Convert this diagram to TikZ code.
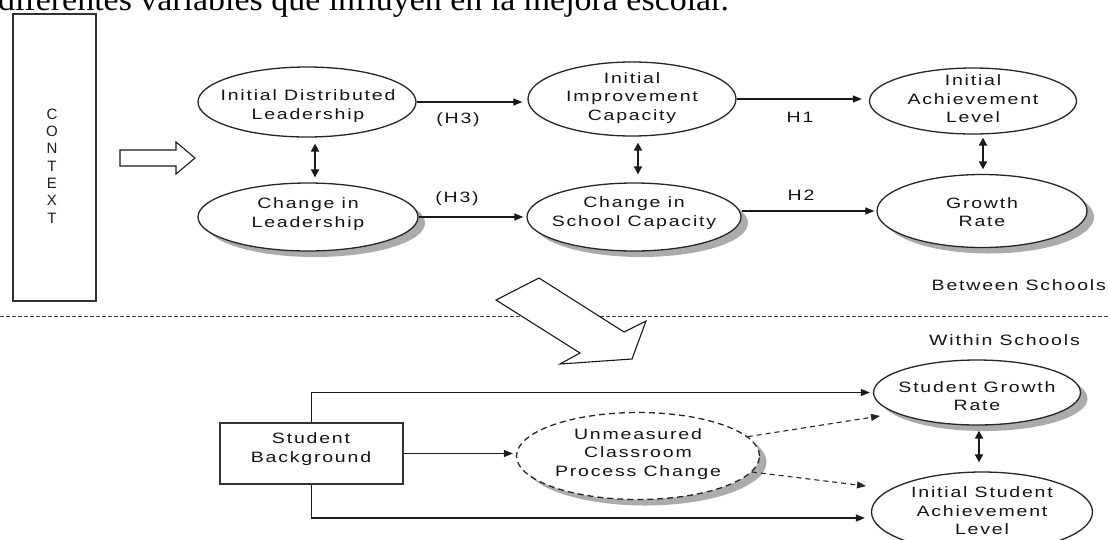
\documentclass[tikz,border=0pt]{standalone}
\usepackage{fontspec}
\setmainfont{Liberation Sans}
\newfontfamily\lblfont{Liberation Sans}[FakeStretch=1.3,LetterSpace=12]
\newfontfamily\capfont{Liberation Serif}[FakeStretch=1.06]
\usetikzlibrary{shapes.geometric,arrows.meta,shadows,calc}
\begin{document}
\begin{tikzpicture}[x=1pt,y=-1pt,
  ell/.style={ellipse, draw=black!85, line width=1.3pt, fill=white, inner sep=0pt},
  shad/.style={drop shadow={shadow xshift=7pt,shadow yshift=-6pt,fill=black!33,opacity=1}},
  lbl/.style={font=\lblfont\fontsize{15}{18.5}\selectfont, align=center, text=black!92, inner sep=0pt},
  arr/.style={-{Triangle[length=9pt,width=7pt]}, line width=1.2pt, black!90},
  dbl/.style={{Triangle[length=8pt,width=8pt]}-{Triangle[length=8pt,width=8pt]}, line width=1.8pt, black!90},
  darr/.style={-{Triangle[length=9pt,width=7pt]}, line width=1.1pt, black!85, dash pattern=on 5pt off 4pt},
  boxst/.style={draw=black!80, line width=1.4pt, fill=white, inner sep=0pt},
  blockarrow/.style={draw=black!90, line width=1.1pt, fill=white, line join=miter}
]
\path[use as bounding box] (0,0) rectangle (1108,539);
\clip (0,0) rectangle (1108,539);
\fill[white] (0,0) rectangle (1108,539);

% caption fragment at top
\node[anchor=base west, inner sep=0pt, font=\capfont\fontsize{32}{34}\selectfont] (cap) at (-2,10.5) {diferentes variables que influyen en la mejora escolar.};

% context box
\node[boxst, minimum width=83pt, minimum height=287pt] (ctx) at (54.5,157.5) {};
\node[font=\fontsize{15}{17.3}\selectfont, align=center, inner sep=0pt, text=black!88] (ctxt) at (52,166) {C\\O\\N\\T\\E\\X\\T};

% right block arrow
\draw[blockarrow] (120,150) -- (176,150) -- (176,142) -- (195,158) -- (176,174) -- (176,166) -- (120,166) -- cycle;

% between-schools ellipses
\node[ell, minimum width=218pt, minimum height=70pt] (idl) at (307,102) {};
\node[ell, shad, minimum width=220pt, minimum height=68pt] (cl) at (308,217) {};
\node[ell, minimum width=208pt, minimum height=74pt] (iic) at (632,99) {};
\node[ell, shad, minimum width=214pt, minimum height=68pt] (csc) at (634,217) {};
\node[ell, minimum width=207pt, minimum height=66pt] (ial) at (973,101) {};
\node[ell, shad, minimum width=210pt, minimum height=73pt] (gr) at (982,211) {};

\node[lbl] (tidl) at (308,106) {Initial Distributed\\Leadership};
\node[lbl] (tcl) at (308,214) {Change in\\Leadership};
\node[lbl] (tiic) at (632,98) {Initial\\Improvement\\Capacity};
\node[lbl] (tcsc) at (634,213) {Change in\\School Capacity};
\node[lbl] (tial) at (973,99) {Initial\\Achievement\\Level};
\node[lbl] (tgr) at (982,212) {Growth\\Rate};

\draw[arr, shorten >=5pt] (idl.east) -- (idl.east -| iic.west);
\draw[arr, shorten >=3pt] (cl.east) -- (cl.east -| csc.west);
\draw[arr, shorten >=7pt] (iic.east) -- (iic.east -| ial.west);
\draw[arr, shorten >=2pt] (csc.east |- gr.west) -- (gr.west);

\node[lbl] (h3a) at (458,120) {(H3)};
\node[lbl] (h3b) at (457,199) {(H3)};
\node[lbl] (h1) at (800,117) {H1};
\node[lbl] (h2) at (801,195) {H2};

\draw[dbl] ($(idl.south)+(8,6)$) -- ($(cl.north)+(7,-5)$);
\draw[dbl] ($(iic.south)+(6,6)$) -- ($(csc.north)+(4,-8)$);
\draw[dbl] ($(ial.south)+(10,3)$) -- ($(gr.north)+(1,-4.5)$);

\node[lbl, anchor=east] (between) at (1106,285) {Between Schools};

% divider
\draw[black!75, line width=1pt, dash pattern=on 4pt off 2pt] (0,316) -- (1108,316);

% down-right block arrow
\draw[blockarrow] (539,278) -- (496,300) -- (580,353) -- (560,364) -- (632,359) -- (646,321) -- (624,332) -- cycle;

\node[lbl] (within) at (1004.5,340) {Within Schools};

% within-schools
\node[boxst, minimum width=183pt, minimum height=61pt] (sb) at (311.5,453.5) {};
\node[lbl] (tsb) at (311,449) {Student\\Background};

\node[ell, shad, minimum width=207pt, minimum height=65pt] (sgr) at (977,392.5) {};
\node[ell, shad, dashed, dash pattern=on 6pt off 4pt, minimum width=243pt, minimum height=87pt] (ucpc) at (638,456) {};
\node[ell, minimum width=221pt, minimum height=80pt] (isal) at (982,512) {};

\node[lbl] (tsgr) at (977,396) {Student Growth\\Rate};
\node[lbl] (tucpc) at (638,454) {Unmeasured\\Classroom\\Process Change};
\node[lbl] (tisal) at (982,511) {Initial Student\\Achievement\\Level};

\coordinate (sgrin) at (880,416);
\coordinate (isalin) at (866,486);

\draw[arr, shorten >=3pt] (sb.north) |- (sgr.west);
\draw[arr, shorten >=6pt] (sb.south) |- ($(isal.west)+(0,6)$);
\draw[arr, shorten >=3pt] (sb.east) -- (sb.east -| ucpc.west);
\draw[darr] (ucpc.10) -- (sgrin);
\draw[darr] (ucpc.-8) -- (isalin);
\draw[dbl] ($(sgr.south)+(2,5)$) -- ($(isal.north)+(-3,-9)$);
\end{tikzpicture}
\end{document}
